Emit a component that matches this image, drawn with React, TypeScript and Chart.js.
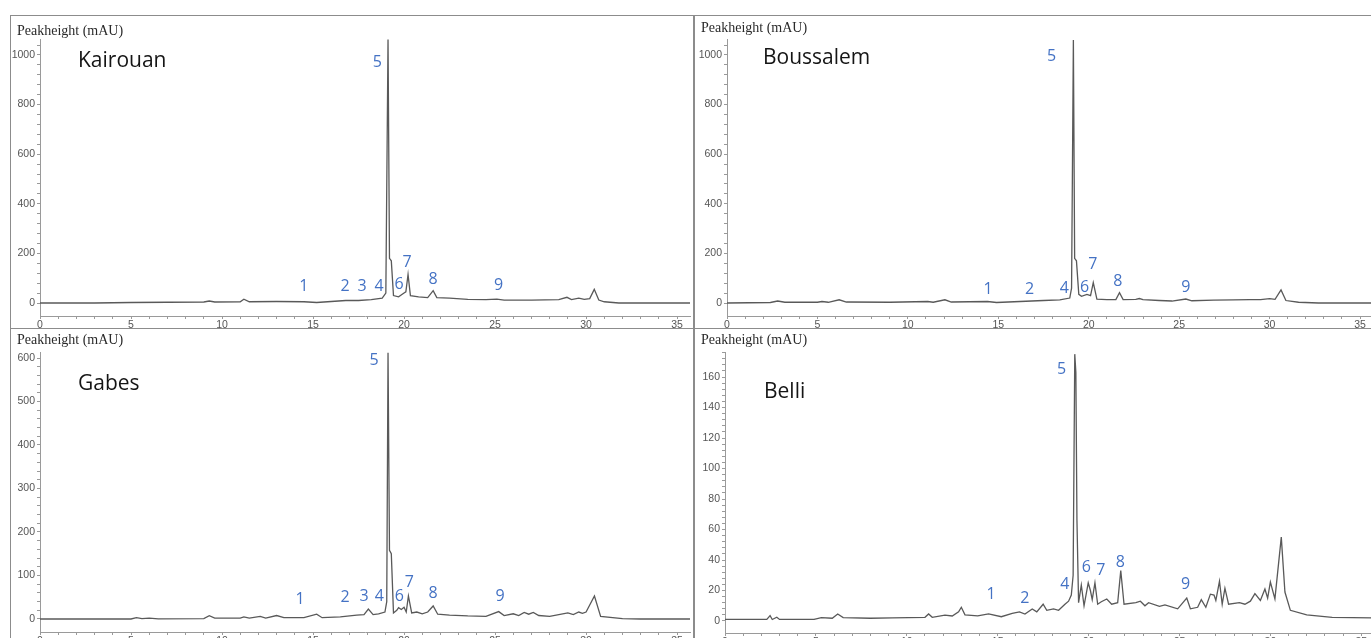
import React, { useEffect, useRef } from 'react';
import { Chart, registerables } from 'chart.js';

Chart.register(...registerables);

// Chromatogram traces: [retention time (min), peak height (mAU)]
const kairouanTrace: [number, number][] = [
  [0, 0], [3, 0], [5, 2], [7, 3], [9, 4], [9.3, 8], [9.6, 4], [11, 5], [11.2, 15], [11.5, 5],
  [13, 6], [14.5, 5], [15.2, 2], [16, 6], [16.8, 10], [17.5, 10], [18.2, 14], [18.8, 20], [19.0, 40],
  [19.12, 1062], [19.2, 180], [19.3, 170], [19.42, 30], [19.7, 25], [20.0, 40], [20.1, 45], [20.22, 115],
  [20.35, 30], [20.8, 25], [21.3, 22], [21.6, 50], [21.8, 22], [22.5, 20], [23.5, 15], [24.5, 14],
  [25.1, 16], [25.5, 12], [27, 12], [28.5, 14], [28.95, 23], [29.2, 14], [29.6, 20], [29.9, 15],
  [30.2, 18], [30.45, 55], [30.7, 12], [31, 5], [31.8, 0], [35.8, 0],
];

const boussalemTrace: [number, number][] = [
  [0, 0], [2.4, 2], [2.8, 8], [3.2, 3], [5.0, 3], [5.25, 6], [5.6, 3], [6.2, 13], [6.6, 4], [9, 3],
  [11.1, 6], [11.4, 3], [12.05, 13], [12.4, 4], [14.4, 6], [14.9, 2], [16.2, 6], [17.5, 10], [18.4, 13],
  [18.95, 20], [19.05, 60], [19.15, 1060], [19.22, 180], [19.32, 170], [19.45, 35], [19.6, 27],
  [19.9, 35], [20.1, 30], [20.25, 82], [20.45, 16], [21.0, 14], [21.5, 14], [21.7, 42], [21.9, 14],
  [22.6, 15], [22.8, 18], [23.0, 14], [23.9, 10], [24.6, 8], [25.37, 16], [25.7, 9], [26.9, 12],
  [28.0, 13], [28.9, 14], [29.5, 14], [30.0, 18], [30.3, 15], [30.63, 53], [30.9, 10], [31.6, 3],
  [32.7, 0], [35.7, 0],
];

const gabesTrace: [number, number][] = [
  [0, 0], [5.0, 0], [5.3, 3], [5.6, 1], [6.0, 2], [6.5, 0.5], [9.0, 1], [9.3, 7.5], [9.6, 2], [11.0, 2],
  [11.2, 5], [11.5, 2], [12.1, 6], [12.4, 2], [13.0, 8], [13.4, 3], [14.5, 3], [15.2, 11], [15.5, 3],
  [16.5, 5], [17.4, 9], [17.8, 10], [18.04, 23], [18.3, 10], [18.6, 12], [18.95, 16], [19.05, 40],
  [19.12, 612], [19.2, 158], [19.3, 150], [19.42, 14], [19.6, 20], [19.7, 26], [19.85, 22], [20.0, 27],
  [20.12, 16], [20.24, 53], [20.42, 14], [20.7, 16], [21.0, 12], [21.3, 16], [21.6, 30], [21.85, 11],
  [22.5, 9], [23.5, 7], [24.5, 6], [25.2, 17], [25.5, 8], [26.0, 12], [26.3, 8], [26.6, 15], [26.85, 11],
  [27.1, 15], [27.4, 8], [28, 6], [29, 14], [29.3, 10], [29.6, 16], [29.8, 13], [30.0, 16], [30.46, 53],
  [30.8, 6], [32, 1], [33, 0], [35.8, 0],
];

const belliTrace: [number, number][] = [
  [0, 1], [2.3, 1], [2.48, 3.5], [2.6, 1], [2.85, 2.5], [3.0, 1], [4.9, 1], [5.3, 2.2], [5.9, 1.8],
  [6.2, 4.6], [6.5, 2.2], [8, 1.8], [9.2, 2], [11.0, 2.4], [11.2, 4.6], [11.4, 2.4], [12.1, 3.9],
  [12.5, 3.3], [12.85, 6], [13.0, 9], [13.2, 4], [13.9, 3.3], [14.5, 4.6], [15.2, 2.8], [15.8, 5],
  [16.2, 6], [16.5, 4.6], [16.9, 7.9], [17.15, 6], [17.5, 11], [17.7, 7], [18.07, 8], [18.35, 7],
  [18.7, 11], [18.9, 13], [19.05, 17], [19.15, 30], [19.24, 175], [19.3, 163], [19.36, 66], [19.45, 12],
  [19.6, 23.6], [19.75, 10], [19.98, 25], [20.1, 20], [20.2, 14], [20.35, 25], [20.5, 11], [20.7, 12.6],
  [21.0, 14.4], [21.27, 11], [21.6, 12], [21.77, 33], [21.95, 11], [22.6, 12], [22.85, 13], [23.1, 10],
  [23.3, 12], [23.9, 9.6], [24.2, 10.5], [24.9, 8], [25.4, 15], [25.6, 8], [26.0, 9], [26.2, 14],
  [26.45, 9], [26.7, 17.6], [26.9, 17], [27.0, 13.5], [27.2, 26], [27.35, 11], [27.5, 21.5], [27.7, 11],
  [28.3, 12], [28.6, 11], [28.9, 13], [29.15, 18], [29.45, 13.5], [29.7, 21], [29.85, 15], [30.0, 25.6],
  [30.25, 14.5], [30.6, 55], [30.8, 19], [31.1, 7], [32.0, 4], [33.4, 2.4], [35.6, 2],
];

// Peak number annotations: [label, time (min), height (mAU)]
const kairouanPeaks: [string, number, number][] = [
  ['1', 14.5, 65], ['2', 16.76, 65], ['3', 17.7, 65], ['4', 18.63, 65], ['5', 18.53, 968],
  ['6', 19.73, 73], ['7', 20.16, 165], ['8', 21.6, 93], ['9', 25.2, 69],
];
const boussalemPeaks: [string, number, number][] = [
  ['1', 14.43, 56], ['2', 16.73, 56], ['4', 18.65, 58], ['5', 17.95, 996],
  ['6', 19.77, 63], ['7', 20.23, 154], ['8', 21.61, 85], ['9', 25.37, 63],
];
const gabesPeaks: [string, number, number][] = [
  ['1', 14.29, 45], ['2', 16.76, 49], ['3', 17.8, 51], ['4', 18.64, 51], ['5', 18.35, 594],
  ['6', 19.74, 53], ['7', 20.29, 83], ['8', 21.6, 59], ['9', 25.27, 51],
];
const belliPeaks: [string, number, number][] = [
  ['1', 14.63, 17.7], ['2', 16.49, 14.9], ['4', 18.69, 24.3], ['5', 18.52, 165],
  ['6', 19.88, 35], ['7', 20.68, 33.4], ['8', 21.75, 38.5], ['9', 25.34, 24.3],
];

const yAxisTitle = 'Peakheight (mAU)';
const xTickEvery = 5;

interface PanelCfg {
  title: string;
  trace: [number, number][];
  peaks: [string, number, number][];
  box: { left: number; top: number; width: number; height: number };
  area: { left: number; top: number; bottom: number; right: number };
  xMax: number;
  y: { min: number; max: number; step: number; major: number };
  header: { x: number; y: number };
  name: { x: number; y: number };
}

const PANELS: PanelCfg[] = [
  {
    title: 'Kairouan', trace: kairouanTrace, peaks: kairouanPeaks,
    box: { left: 10, top: 15, width: 684, height: 314 },
    area: { left: 29, top: 23, bottom: 300, right: 3 }, xMax: 35.71,
    y: { min: -52.4, max: 1064.4, step: 40, major: 200 },
    header: { x: 6, y: 15 }, name: { x: 67, y: 45 },
  },
  {
    title: 'Boussalem', trace: boussalemTrace, peaks: boussalemPeaks,
    box: { left: 694, top: 15, width: 690, height: 314 },
    area: { left: 32, top: 23, bottom: 300, right: 11 }, xMax: 35.66,
    y: { min: -52.4, max: 1064.4, step: 40, major: 200 },
    header: { x: 6, y: 12 }, name: { x: 68, y: 42 },
  },
  {
    title: 'Gabes', trace: gabesTrace, peaks: gabesPeaks,
    box: { left: 10, top: 328, width: 684, height: 320 },
    area: { left: 29, top: 23, bottom: 303, right: 3 }, xMax: 35.71,
    y: { min: -29.9, max: 613.8, step: 20, major: 100 },
    header: { x: 6, y: 11 }, name: { x: 67, y: 55 },
  },
  {
    title: 'Belli', trace: belliTrace, peaks: belliPeaks,
    box: { left: 694, top: 328, width: 690, height: 320 },
    area: { left: 30, top: 23, bottom: 304, right: 11 }, xMax: 35.59,
    y: { min: -7.87, max: 176.4, step: 4, major: 20 },
    header: { x: 6, y: 11 }, name: { x: 69, y: 63 },
  },
];

const AXIS_COLOR = '#9a9a9a';
const TICK_FONT = { family: '"Liberation Sans", Arial, sans-serif', size: 10.5 };

function Panel({ cfg }: { cfg: PanelCfg }) {
  const ref = useRef<HTMLCanvasElement>(null);
  const innerW = cfg.box.width - 2;
  const canvasH = cfg.area.bottom + 30;

  useEffect(() => {
    const canvas = ref.current;
    if (!canvas) return;
    const textPlugin = {
      id: 'panelText',
      afterDatasetsDraw(chart: any) {
        const { ctx } = chart;
        const xs = chart.scales.x;
        const ys = chart.scales.y;
        ctx.save();
        ctx.textBaseline = 'middle';
        ctx.textAlign = 'left';
        ctx.fillStyle = '#2a2a2a';
        ctx.font = '14px "Liberation Serif", "Times New Roman", serif';
        ctx.fillText(yAxisTitle, cfg.header.x, cfg.header.y);
        ctx.fillStyle = '#151515';
        ctx.font = '21px "Open Sans", sans-serif';
        ctx.fillText(cfg.title, cfg.name.x, cfg.name.y);
        ctx.fillStyle = '#4472C4';
        ctx.font = '16px "Open Sans", sans-serif';
        ctx.textAlign = 'center';
        for (const [label, t, v] of cfg.peaks) {
          ctx.fillText(label, xs.getPixelForValue(t), ys.getPixelForValue(v));
        }
        ctx.restore();
      },
    };

    const chart = new Chart(canvas, {
      type: 'scatter',
      data: {
        datasets: [
          {
            data: cfg.trace.map(([x, y]) => ({ x, y })),
            showLine: true,
            borderColor: '#595959',
            borderWidth: 1.3,
            pointRadius: 0,
            pointHoverRadius: 0,
            tension: 0,
            fill: false,
          },
        ],
      },
      options: {
        responsive: false,
        animation: false,
        devicePixelRatio: 1,
        events: [],
        layout: { padding: { left: 0, top: cfg.area.top, right: cfg.area.right, bottom: 0 } },
        plugins: {
          legend: { display: false },
          tooltip: { enabled: false },
          title: { display: false },
        },
        scales: {
          x: {
            type: 'linear',
            position: 'bottom',
            min: 0,
            max: cfg.xMax,
            afterFit: (s: any) => { s.height = 30; },
            border: { display: true, color: AXIS_COLOR, width: 1 },
            grid: { drawOnChartArea: false, drawTicks: true, tickLength: 3, tickColor: AXIS_COLOR },
            ticks: {
              stepSize: 1,
              autoSkip: false,
              includeBounds: false,
              maxRotation: 0,
              padding: 0,
              color: '#555',
              font: TICK_FONT,
              callback: (v: any) => (Math.abs(v % xTickEvery) < 1e-9 ? String(v) : ''),
            },
          },
          y: {
            type: 'linear',
            position: 'left',
            min: cfg.y.min,
            max: cfg.y.max,
            afterFit: (s: any) => { s.width = cfg.area.left; },
            border: { display: true, color: AXIS_COLOR, width: 1 },
            grid: {
              drawOnChartArea: false,
              drawTicks: true,
              tickLength: 3,
              tickColor: (c: any) => (c.tick && c.tick.value < 0 ? 'rgba(0,0,0,0)' : AXIS_COLOR),
            },
            ticks: {
              stepSize: cfg.y.step,
              autoSkip: false,
              includeBounds: false,
              padding: 2,
              color: '#555',
              font: TICK_FONT,
              callback: (v: any) => (v >= 0 && Math.abs(v % cfg.y.major) < 1e-9 ? String(v) : ''),
            },
          },
        },
      },
      plugins: [textPlugin],
    } as any);
    return () => chart.destroy();
  }, [cfg]);

  return (
    <div
      style={{
        position: 'absolute',
        left: cfg.box.left,
        top: cfg.box.top,
        width: cfg.box.width,
        height: cfg.box.height,
        boxSizing: 'border-box',
        border: '1px solid #8c8c8c',
        overflow: 'hidden',
        background: '#fff',
      }}
    >
      <canvas
        ref={ref}
        width={innerW}
        height={canvasH}
        style={{ position: 'absolute', left: 0, top: 0, width: innerW, height: canvasH, display: 'block' }}
      />
    </div>
  );
}

export default function App() {
  return (
    <div
      style={{
        position: 'fixed',
        left: 0,
        top: 0,
        width: 1371,
        height: 638,
        overflow: 'hidden',
        background: '#fff',
      }}
    >
      {PANELS.map((p) => (
        <Panel key={p.title} cfg={p} />
      ))}
    </div>
  );
}
